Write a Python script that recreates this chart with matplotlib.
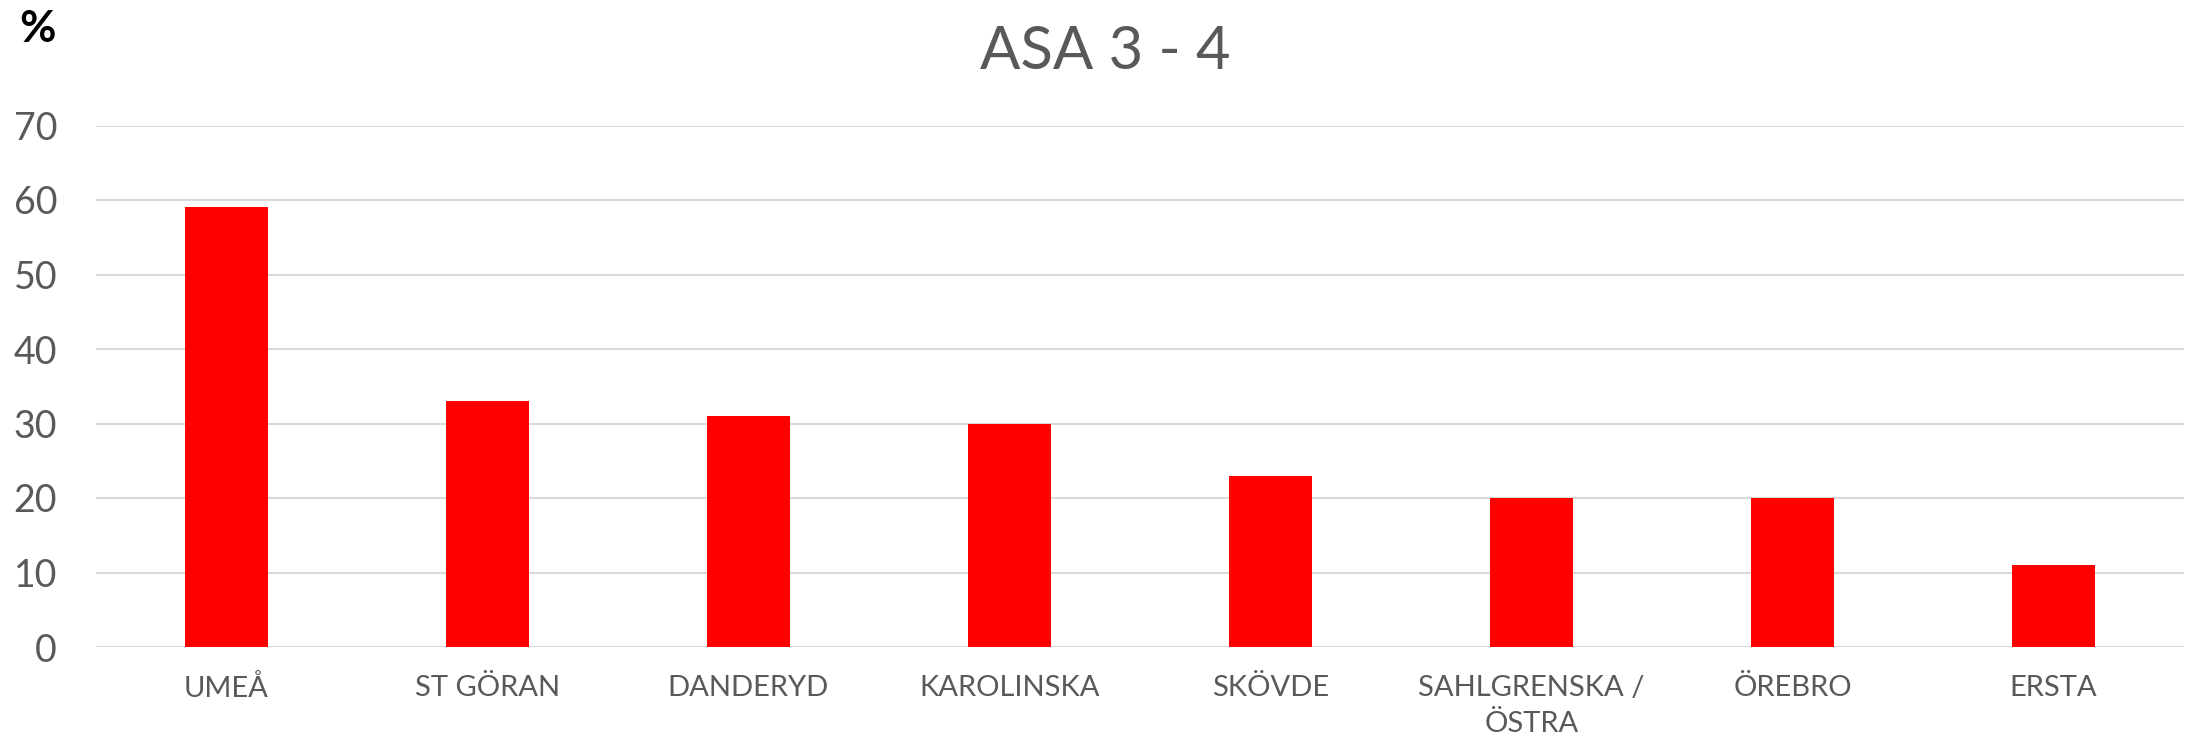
import matplotlib
matplotlib.use('Agg')
import matplotlib.pyplot as plt
import numpy as np

categories = ['UMEÅ', 'ST GÖRAN', 'DANDERYD', 'KAROLINSKA', 'SKÖVDE',
              'SAHLGRENSKA /\nÖSTRA', 'ÖREBRO', 'ERSTA']
values = [59, 33, 31, 30, 23, 20, 20, 11]
yticks = [0, 10, 20, 30, 40, 50, 60, 70]

plt.rcParams['font.family'] = ['Lato', 'DejaVu Sans']
text_col = '#595959'
grid_col = '#d9d9d9'

W, H = 2193, 739
fig = plt.figure(figsize=(W / 100, H / 100), dpi=100)
ax = fig.add_axes([96 / W, 1 - 647 / H, (2184 - 96) / W, (647 - 125.5) / H])

x = np.arange(len(categories))
ax.bar(x, values, width=0.32, color='#ff0000', zorder=3)

ax.set_xlim(-0.5, len(categories) - 0.5)
ax.set_ylim(0, 70)
ax.set_yticks(yticks)
ax.set_yticklabels([str(v) for v in yticks], fontsize=27, color=text_col)
ax.set_xticks(x)
ax.set_xticklabels(categories, fontsize=21, color=text_col, linespacing=1.5)
ax.tick_params(axis='both', length=0)
ax.tick_params(axis='y', pad=28)
ax.tick_params(axis='x', pad=20)

ax.grid(axis='y', color=grid_col, linewidth=1.5, zorder=0)
for s in ax.spines.values():
    s.set_visible(False)

fig.text(1105 / W, 1 - 52 / H, 'ASA 3 - 4', fontsize=43, color=text_col,
         ha='center', va='center')
fig.text(19 / W, 1 - 29 / H, '%', fontsize=32, color='black',
         fontweight='bold', ha='left', va='center')

plt.savefig('out.png', dpi=100)
